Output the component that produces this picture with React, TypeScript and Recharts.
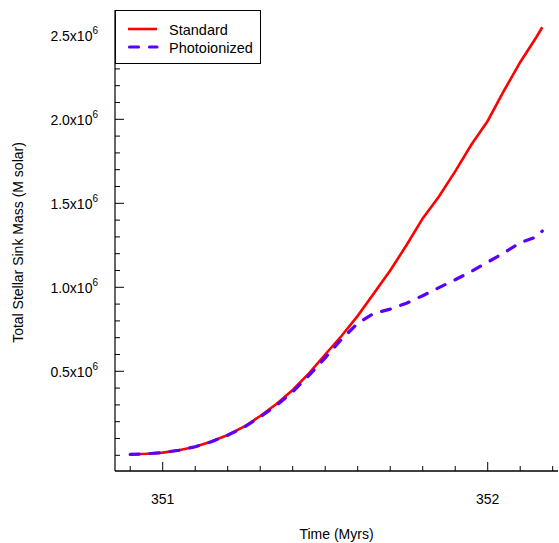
import React from 'react'
import { LineChart, Line, XAxis, YAxis, Legend } from 'recharts'

// time in Myrs, mass in units of 10^6 M solar
const TIME = [
  350.9, 350.95, 351.0, 351.05, 351.1, 351.15, 351.2, 351.25, 351.3, 351.35, 351.4, 351.45, 351.5,
  351.55, 351.6, 351.65, 351.7, 351.75, 351.8, 351.85, 351.9, 351.95, 352.0, 352.05, 352.1, 352.15,
  352.168,
]
const STANDARD = [
  0.005, 0.009, 0.016, 0.03, 0.051, 0.082, 0.121, 0.17, 0.234, 0.305, 0.389, 0.488, 0.6, 0.71,
  0.83, 0.965, 1.1, 1.25, 1.41, 1.54, 1.69, 1.85, 1.99, 2.17, 2.34, 2.49, 2.548,
]
const PHOTOIONIZED = [
  0.005, 0.009, 0.016, 0.03, 0.051, 0.081, 0.119, 0.167, 0.228, 0.297, 0.378, 0.475, 0.58, 0.69,
  0.785, 0.845, 0.87, 0.905, 0.95, 0.998, 1.045, 1.095, 1.15, 1.205, 1.265, 1.3, 1.335,
]
const X_TICKS = [
  350.9, 351.0, 351.1, 351.2, 351.3, 351.4, 351.5, 351.6, 351.7, 351.8, 351.9, 352.0, 352.1, 352.2,
]
const Y_TICKS = [
  0, 0.1, 0.2, 0.3, 0.4, 0.5, 0.6, 0.7, 0.8, 0.9, 1.0, 1.1, 1.2, 1.3, 1.4, 1.5, 1.6, 1.7, 1.8,
  1.9, 2.0, 2.1, 2.2, 2.3, 2.4, 2.5, 2.6,
]

const rows = TIME.map((t, i) => ({ t, standard: STANDARD[i], photo: PHOTOIONIZED[i] }))

const FONT = '"Liberation Sans", Arial, sans-serif'
const RED = '#FF0000'
const PURPLE = '#5A00FF'
const X_DOMAIN = [350.8532, 352.2163]
const Y_DOMAIN = [-0.0935, 2.6506]

const isMajorX = (v: number) => Math.abs(v - Math.round(v)) < 1e-6
const isMajorY = (v: number) => v > 0 && Math.abs(v * 2 - Math.round(v * 2)) < 1e-6

const XTick = (props: any) => {
  const { x, y, payload, side } = props
  const major = isMajorX(payload.value)
  const len = major ? 9 : 5
  const dir = side === 'bottom' ? -1 : 1
  return (
    <g>
      <line x1={x} y1={y} x2={x} y2={y + dir * len} stroke="#000" strokeWidth={1} />
      {side === 'bottom' && major && (
        <text x={x} y={y + 33} textAnchor="middle" fontSize={14} fontFamily={FONT} fill="#000">
          {Math.round(payload.value)}
        </text>
      )}
    </g>
  )
}

const YTick = (props: any) => {
  const { x, y, payload, side } = props
  const major = isMajorY(payload.value)
  const len = major ? 9 : 5
  const dir = side === 'left' ? 1 : -1
  return (
    <g>
      <line x1={x} y1={y} x2={x + dir * len} y2={y} stroke="#000" strokeWidth={1} />
      {side === 'left' && major && (
        <text x={x - 17} y={y + 6} textAnchor="end" fontSize={14} fontFamily={FONT} fill="#000">
          {payload.value.toFixed(1)}x10
          <tspan dy={-7} fontSize={10}>6</tspan>
        </text>
      )}
    </g>
  )
}

const YTitle = (props: any) => {
  const vb = props.viewBox || {}
  const cy = (vb.y ?? 0) + (vb.height ?? 0) / 2 + 2
  return (
    <text
      x={23}
      y={cy}
      transform={`rotate(-90 23 ${cy})`}
      textAnchor="middle"
      fontSize={14}
      fontFamily={FONT}
      fill="#000"
    >
      Total Stellar Sink Mass (M solar)
    </text>
  )
}

const LegendBox = () => (
  <div
    style={{
      width: 146,
      height: 54,
      boxSizing: 'border-box',
      border: '1px solid #000',
      background: '#fff',
    }}
  >
    <svg width={144} height={52}>
      <line x1={12} y1={18} x2={41} y2={18} stroke={RED} strokeWidth={2.6} />
      <text x={53} y={23.5} fontSize={14.5} fontFamily={FONT} fill="#000">
        Standard
      </text>
      <line
        x1={13.5}
        y1={36}
        x2={41}
        y2={36}
        stroke={PURPLE}
        strokeWidth={3.2}
        strokeDasharray="9 11"
        strokeLinecap="round"
      />
      <text x={53} y={41.5} fontSize={14.5} fontFamily={FONT} fill="#000">
        Photoionized
      </text>
    </svg>
  </div>
)

export default function App() {
  return (
    <div style={{ position: 'absolute', left: 0, top: 0, width: 559, height: 543, background: '#fff' }}>
      <LineChart width={559} height={543} data={rows} margin={{ top: 10, right: 1, bottom: 0, left: 0 }}>
        <XAxis
          dataKey="t"
          type="number"
          domain={X_DOMAIN}
          allowDataOverflow
          ticks={X_TICKS}
          interval={0}
          height={72}
          tickSize={0}
          tickMargin={0}
          tickLine={false}
          axisLine={{ stroke: '#000', strokeWidth: 1.6 }}
          tick={(p: any) => <XTick {...p} side="bottom" />}
          label={{ value: 'Time (Myrs)', position: 'insideBottom', offset: 4, fontSize: 14, fontFamily: FONT, fill: '#000' }}
        />
        <XAxis
          xAxisId="top"
          orientation="top"
          type="number"
          domain={X_DOMAIN}
          allowDataOverflow
          ticks={X_TICKS}
          interval={0}
          height={0}
          tickSize={0}
          tickMargin={0}
          tickLine={false}
          axisLine={{ stroke: '#000', strokeWidth: 1 }}
          tick={(p: any) => <XTick {...p} side="top" />}
        />
        <YAxis
          type="number"
          domain={Y_DOMAIN}
          allowDataOverflow
          ticks={Y_TICKS}
          interval={0}
          width={115}
          tickSize={0}
          tickMargin={0}
          tickLine={false}
          axisLine={{ stroke: '#000', strokeWidth: 1.2 }}
          tick={(p: any) => <YTick {...p} side="left" />}
          label={<YTitle />}
        />
        <YAxis
          yAxisId="right"
          orientation="right"
          type="number"
          domain={Y_DOMAIN}
          allowDataOverflow
          ticks={Y_TICKS}
          interval={0}
          width={0}
          tickSize={0}
          tickMargin={0}
          tickLine={false}
          axisLine={{ stroke: '#000', strokeWidth: 1 }}
          tick={(p: any) => <YTick {...p} side="right" />}
        />
        <Legend
          layout="vertical"
          align="center"
          verticalAlign="middle"
          content={() => <LegendBox />}
          wrapperStyle={{ left: 115, top: 10, width: 146, height: 54 }}
        />
        <Line
          type="linear"
          dataKey="standard"
          name="Standard"
          stroke={RED}
          strokeWidth={2.6}
          dot={false}
          isAnimationActive={false}
        />
        <Line
          type="linear"
          dataKey="photo"
          name="Photoionized"
          stroke={PURPLE}
          strokeWidth={3.2}
          strokeDasharray="9 11"
          strokeLinecap="round"
          dot={false}
          isAnimationActive={false}
        />
      </LineChart>
    </div>
  )
}
